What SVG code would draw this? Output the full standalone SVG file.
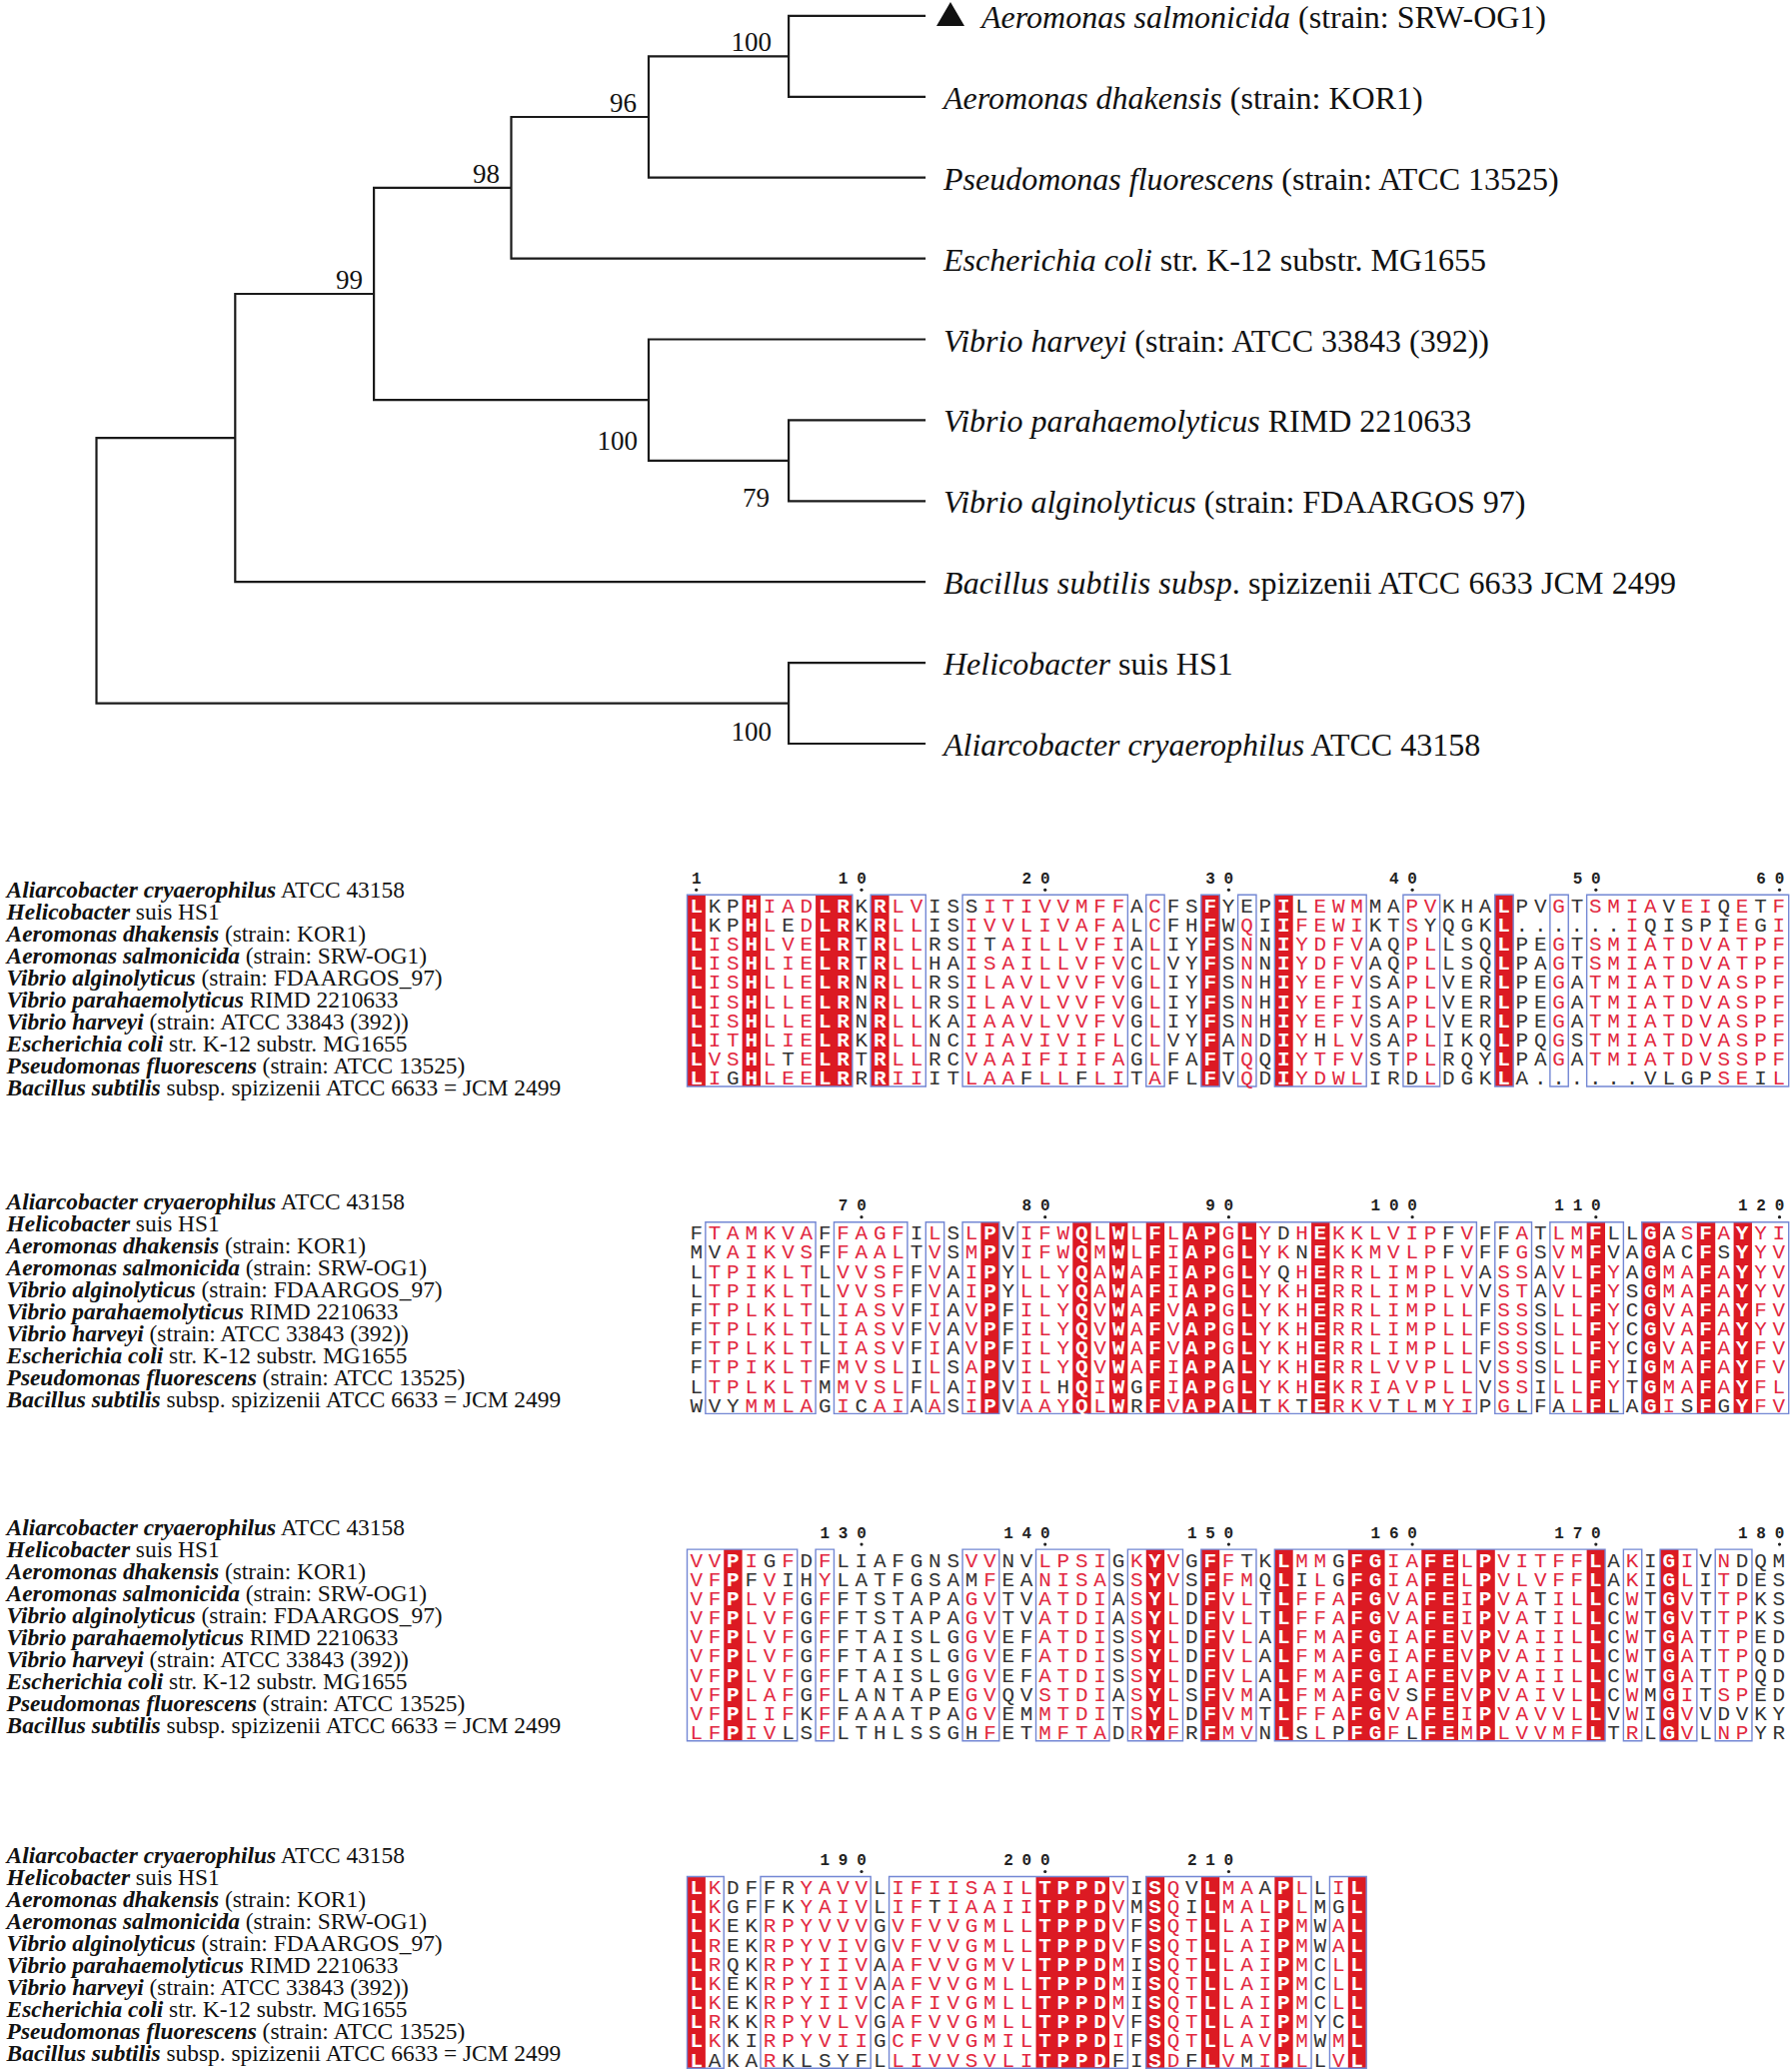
<svg xmlns="http://www.w3.org/2000/svg" width="1791" height="2073" viewBox="0 0 1791 2073">
<style>
.tr{fill:none;stroke:#1a1a1a;stroke-width:2.2;stroke-linecap:square}
.tl{font-family:"Liberation Serif","Times New Roman",serif;font-size:32px;fill:#111}
.bs{font-family:"Liberation Serif","Times New Roman",serif;font-size:27px;fill:#111;text-anchor:end}
.it{font-style:italic}
.al{font-family:"Liberation Serif","Times New Roman",serif;font-size:23.4px;fill:#111}
.bi{font-weight:bold;font-style:italic}
.c{fill:#dc1a23}
.b{fill:none;stroke:#7387d4;stroke-width:1.4;vector-effect:non-scaling-stroke}
.s{font-family:"Liberation Mono","Courier New",monospace;font-size:21px;letter-spacing:5.757px;fill:#333}
.r{fill:#e2283f}
.w{fill:#fff;font-weight:bold}
.n{font-family:"Liberation Mono","Courier New",monospace;font-size:16px;font-weight:bold;text-anchor:middle;fill:#222}
.d{fill:#222}
</style>
<rect x="0" y="0" width="1791" height="2073" fill="#fff"/>

<g id="tree-connectors" class="tr">
<path d="M96.5 438.1V703.55M96.5 438.1H235.3M96.5 703.55H789.1M235.3 294V582.2M235.3 294H374.1M235.3 582.2H925M374.1 187.8V400.2M374.1 187.8H511.5M374.1 400.2H649M511.5 117V258.6M511.5 117H649M511.5 258.6H925M649 56.35V177.7M649 56.35H789.1M649 177.7H925M789.1 15.9V96.8M789.1 15.9H925M789.1 96.8H925M649 339.5V460.85M649 339.5H925M649 460.85H789.1M789.1 420.4V501.3M789.1 420.4H925M789.1 501.3H925M789.1 663.1V744M789.1 663.1H925M789.1 744H925"/>
</g>

<g id="support-values">
<text class="bs" x="772" y="51">100</text>
<text class="bs" x="637" y="112">96</text>
<text class="bs" x="500" y="183">98</text>
<text class="bs" x="363" y="289">99</text>
<text class="bs" x="638" y="450">100</text>
<text class="bs" x="770" y="507">79</text>
<text class="bs" x="772" y="741">100</text>
</g>

<g id="leaf-aeromonas-salmonicida"><polygon points="937,26 965,26 951,2" fill="#111"/><text class="tl" x="982" y="28"><tspan class="it">Aeromonas salmonicida</tspan> (strain: SRW-OG1)</text></g>
<g id="leaf-aeromonas-dhakensis"><text class="tl" x="944" y="108.8"><tspan class="it">Aeromonas dhakensis</tspan> (strain: KOR1)</text></g>
<g id="leaf-pseudomonas"><text class="tl" x="944" y="189.7"><tspan class="it">Pseudomonas fluorescens</tspan> (strain: ATCC 13525)</text></g>
<g id="leaf-ecoli"><text class="tl" x="944" y="270.6"><tspan class="it">Escherichia coli</tspan> str. K-12 substr. MG1655</text></g>
<g id="leaf-vibrio-harveyi"><text class="tl" x="944" y="351.5"><tspan class="it">Vibrio harveyi</tspan> (strain: ATCC 33843 (392))</text></g>
<g id="leaf-vibrio-parahaemolyticus"><text class="tl" x="944" y="432.4"><tspan class="it">Vibrio parahaemolyticus</tspan> RIMD 2210633</text></g>
<g id="leaf-vibrio-alginolyticus"><text class="tl" x="944" y="513.3"><tspan class="it">Vibrio alginolyticus</tspan> (strain: FDAARGOS 97)</text></g>
<g id="leaf-bacillus"><text class="tl" x="944" y="594.2" textLength="733" lengthAdjust="spacing"><tspan class="it">Bacillus subtilis subsp</tspan>. spizizenii ATCC 6633 JCM 2499</text></g>
<g id="leaf-helicobacter"><text class="tl" x="944" y="675.1"><tspan class="it">Helicobacter</tspan> suis HS1</text></g>
<g id="leaf-aliarcobacter"><text class="tl" x="944" y="756"><tspan class="it">Aliarcobacter cryaerophilus</tspan> ATCC 43158</text></g>

<g id="labels-block1" transform="translate(0,898)">
<text class="al" x="6.6" y="0"><tspan class="bi">Aliarcobacter cryaerophilus</tspan> ATCC 43158</text>
<text class="al" x="6.6" y="22"><tspan class="bi">Helicobacter</tspan> suis HS1</text>
<text class="al" x="6.6" y="44"><tspan class="bi">Aeromonas dhakensis</tspan> (strain: KOR1)</text>
<text class="al" x="6.6" y="66"><tspan class="bi">Aeromonas salmonicida</tspan> (strain: SRW-OG1)</text>
<text class="al" x="6.6" y="88"><tspan class="bi">Vibrio alginolyticus</tspan> (strain: FDAARGOS_97)</text>
<text class="al" x="6.6" y="110"><tspan class="bi">Vibrio parahaemolyticus</tspan> RIMD 2210633</text>
<text class="al" x="6.6" y="132"><tspan class="bi">Vibrio harveyi</tspan> (strain: ATCC 33843 (392))</text>
<text class="al" x="6.6" y="154"><tspan class="bi">Escherichia coli</tspan> str. K-12 substr. MG1655</text>
<text class="al" x="6.6" y="176"><tspan class="bi">Pseudomonas fluorescens</tspan> (strain: ATCC 13525)</text>
<text class="al" x="6.6" y="198"><tspan class="bi">Bacillus subtilis</tspan> subsp. spizizenii ATCC 6633 = JCM 2499</text>
</g>
<g id="labels-block2" transform="translate(0,1210)">
<text class="al" x="6.6" y="0"><tspan class="bi">Aliarcobacter cryaerophilus</tspan> ATCC 43158</text>
<text class="al" x="6.6" y="22"><tspan class="bi">Helicobacter</tspan> suis HS1</text>
<text class="al" x="6.6" y="44"><tspan class="bi">Aeromonas dhakensis</tspan> (strain: KOR1)</text>
<text class="al" x="6.6" y="66"><tspan class="bi">Aeromonas salmonicida</tspan> (strain: SRW-OG1)</text>
<text class="al" x="6.6" y="88"><tspan class="bi">Vibrio alginolyticus</tspan> (strain: FDAARGOS_97)</text>
<text class="al" x="6.6" y="110"><tspan class="bi">Vibrio parahaemolyticus</tspan> RIMD 2210633</text>
<text class="al" x="6.6" y="132"><tspan class="bi">Vibrio harveyi</tspan> (strain: ATCC 33843 (392))</text>
<text class="al" x="6.6" y="154"><tspan class="bi">Escherichia coli</tspan> str. K-12 substr. MG1655</text>
<text class="al" x="6.6" y="176"><tspan class="bi">Pseudomonas fluorescens</tspan> (strain: ATCC 13525)</text>
<text class="al" x="6.6" y="198"><tspan class="bi">Bacillus subtilis</tspan> subsp. spizizenii ATCC 6633 = JCM 2499</text>
</g>
<g id="labels-block3" transform="translate(0,1536)">
<text class="al" x="6.6" y="0"><tspan class="bi">Aliarcobacter cryaerophilus</tspan> ATCC 43158</text>
<text class="al" x="6.6" y="22"><tspan class="bi">Helicobacter</tspan> suis HS1</text>
<text class="al" x="6.6" y="44"><tspan class="bi">Aeromonas dhakensis</tspan> (strain: KOR1)</text>
<text class="al" x="6.6" y="66"><tspan class="bi">Aeromonas salmonicida</tspan> (strain: SRW-OG1)</text>
<text class="al" x="6.6" y="88"><tspan class="bi">Vibrio alginolyticus</tspan> (strain: FDAARGOS_97)</text>
<text class="al" x="6.6" y="110"><tspan class="bi">Vibrio parahaemolyticus</tspan> RIMD 2210633</text>
<text class="al" x="6.6" y="132"><tspan class="bi">Vibrio harveyi</tspan> (strain: ATCC 33843 (392))</text>
<text class="al" x="6.6" y="154"><tspan class="bi">Escherichia coli</tspan> str. K-12 substr. MG1655</text>
<text class="al" x="6.6" y="176"><tspan class="bi">Pseudomonas fluorescens</tspan> (strain: ATCC 13525)</text>
<text class="al" x="6.6" y="198"><tspan class="bi">Bacillus subtilis</tspan> subsp. spizizenii ATCC 6633 = JCM 2499</text>
</g>
<g id="labels-block4" transform="translate(0,1864)">
<text class="al" x="6.6" y="0"><tspan class="bi">Aliarcobacter cryaerophilus</tspan> ATCC 43158</text>
<text class="al" x="6.6" y="22"><tspan class="bi">Helicobacter</tspan> suis HS1</text>
<text class="al" x="6.6" y="44"><tspan class="bi">Aeromonas dhakensis</tspan> (strain: KOR1)</text>
<text class="al" x="6.6" y="66"><tspan class="bi">Aeromonas salmonicida</tspan> (strain: SRW-OG1)</text>
<text class="al" x="6.6" y="88"><tspan class="bi">Vibrio alginolyticus</tspan> (strain: FDAARGOS_97)</text>
<text class="al" x="6.6" y="110"><tspan class="bi">Vibrio parahaemolyticus</tspan> RIMD 2210633</text>
<text class="al" x="6.6" y="132"><tspan class="bi">Vibrio harveyi</tspan> (strain: ATCC 33843 (392))</text>
<text class="al" x="6.6" y="154"><tspan class="bi">Escherichia coli</tspan> str. K-12 substr. MG1655</text>
<text class="al" x="6.6" y="176"><tspan class="bi">Pseudomonas fluorescens</tspan> (strain: ATCC 13525)</text>
<text class="al" x="6.6" y="198"><tspan class="bi">Bacillus subtilis</tspan> subsp. spizizenii ATCC 6633 = JCM 2499</text>
</g>

<g id="alignment-block1" transform="translate(687.5,895.3)">
<g transform="scale(18.37,1)">
<rect class="c" x="0" y="0" width="1" height="191.7"/><rect class="c" x="3" y="0" width="1" height="191.7"/><rect class="c" x="7" y="0" width="2" height="191.7"/><rect class="c" x="10" y="0" width="1" height="191.7"/><rect class="c" x="28" y="0" width="1" height="191.7"/><rect class="c" x="32" y="0" width="1" height="191.7"/><rect class="c" x="44" y="0" width="1" height="191.7"/>
<rect class="b" x="0" y="0" width="9" height="191.7"/><rect class="b" x="10" y="0" width="3" height="191.7"/><rect class="b" x="15" y="0" width="9" height="191.7"/><rect class="b" x="25" y="0" width="1" height="191.7"/><rect class="b" x="28" y="0" width="1" height="191.7"/><rect class="b" x="30" y="0" width="1" height="191.7"/><rect class="b" x="32" y="0" width="5" height="191.7"/><rect class="b" x="39" y="0" width="2" height="191.7"/><rect class="b" x="44" y="0" width="1" height="191.7"/><rect class="b" x="47" y="0" width="1" height="191.7"/><rect class="b" x="49" y="0" width="11" height="191.7"/>
</g>
<text class="n" x="9.19 156.15 174.52 339.85 358.22 523.55 541.92 707.25 725.62 890.95 909.32 1074.65 1093.02" y="-11.5">1102030405060</text>
<g class="d"><circle cx="9.19" cy="-5" r="1.6"/><circle cx="174.52" cy="-5" r="1.6"/><circle cx="358.22" cy="-5" r="1.6"/><circle cx="541.92" cy="-5" r="1.6"/><circle cx="725.62" cy="-5" r="1.6"/><circle cx="909.32" cy="-5" r="1.6"/><circle cx="1093.02" cy="-5" r="1.6"/></g>
<text class="s" x="2.88" y="17.5"><tspan class="w">L</tspan>KP<tspan class="w">H</tspan><tspan class="r">IAD</tspan><tspan class="w">LR</tspan>K<tspan class="w">R</tspan><tspan class="r">LV</tspan>ISS<tspan class="r">ITIVVMFF</tspan>A<tspan class="r">C</tspan>FS<tspan class="w">F</tspan>YEP<tspan class="w">I</tspan>L<tspan class="r">EWM</tspan>MA<tspan class="r">PV</tspan>KHA<tspan class="w">L</tspan>PV<tspan class="r">G</tspan>T<tspan class="r">SMIA</tspan>V<tspan class="r">EI</tspan>Q<tspan class="r">E</tspan>T<tspan class="r">F</tspan></text>
<text class="s" x="2.88" y="36.67"><tspan class="w">L</tspan>KP<tspan class="w">H</tspan><tspan class="r">L</tspan>E<tspan class="r">D</tspan><tspan class="w">LR</tspan>K<tspan class="w">R</tspan><tspan class="r">LL</tspan>IS<tspan class="r">IVVLIVAFA</tspan>L<tspan class="r">C</tspan>FH<tspan class="w">F</tspan>W<tspan class="r">Q</tspan>I<tspan class="w">I</tspan><tspan class="r">FEWI</tspan>KT<tspan class="r">S</tspan>YQGK<tspan class="w">L</tspan>......<tspan class="r">I</tspan>QISPI<tspan class="r">E</tspan>G<tspan class="r">I</tspan></text>
<text class="s" x="2.88" y="55.84"><tspan class="w">L</tspan><tspan class="r">IS</tspan><tspan class="w">H</tspan><tspan class="r">LVE</tspan><tspan class="w">LR</tspan>T<tspan class="w">R</tspan><tspan class="r">LL</tspan>RS<tspan class="r">I</tspan>T<tspan class="r">AILLVFI</tspan>A<tspan class="r">L</tspan>IY<tspan class="w">F</tspan>S<tspan class="r">N</tspan>N<tspan class="w">I</tspan><tspan class="r">YDFV</tspan>AQ<tspan class="r">PL</tspan>LSQ<tspan class="w">L</tspan>PE<tspan class="r">G</tspan>T<tspan class="r">SMIATDVATPF</tspan></text>
<text class="s" x="2.88" y="75.01"><tspan class="w">L</tspan><tspan class="r">IS</tspan><tspan class="w">H</tspan><tspan class="r">LIE</tspan><tspan class="w">LR</tspan>T<tspan class="w">R</tspan><tspan class="r">LL</tspan>HA<tspan class="r">ISAILLVFV</tspan>C<tspan class="r">L</tspan>VY<tspan class="w">F</tspan>S<tspan class="r">N</tspan>N<tspan class="w">I</tspan><tspan class="r">YDFV</tspan>AQ<tspan class="r">PL</tspan>LSQ<tspan class="w">L</tspan>PA<tspan class="r">G</tspan>T<tspan class="r">SMIATDVATPF</tspan></text>
<text class="s" x="2.88" y="94.18"><tspan class="w">L</tspan><tspan class="r">IS</tspan><tspan class="w">H</tspan><tspan class="r">LLE</tspan><tspan class="w">LR</tspan>N<tspan class="w">R</tspan><tspan class="r">LL</tspan>RS<tspan class="r">ILAVLVVFV</tspan>G<tspan class="r">L</tspan>IY<tspan class="w">F</tspan>S<tspan class="r">N</tspan>H<tspan class="w">I</tspan><tspan class="r">YEFV</tspan>SA<tspan class="r">PL</tspan>VER<tspan class="w">L</tspan>PE<tspan class="r">G</tspan>A<tspan class="r">TMIATDVASPF</tspan></text>
<text class="s" x="2.88" y="113.35"><tspan class="w">L</tspan><tspan class="r">IS</tspan><tspan class="w">H</tspan><tspan class="r">LLE</tspan><tspan class="w">LR</tspan>N<tspan class="w">R</tspan><tspan class="r">LL</tspan>RS<tspan class="r">ILAVLVVFV</tspan>G<tspan class="r">L</tspan>IY<tspan class="w">F</tspan>S<tspan class="r">N</tspan>H<tspan class="w">I</tspan><tspan class="r">YEFI</tspan>SA<tspan class="r">PL</tspan>VER<tspan class="w">L</tspan>PE<tspan class="r">G</tspan>A<tspan class="r">TMIATDVASPF</tspan></text>
<text class="s" x="2.88" y="132.52"><tspan class="w">L</tspan><tspan class="r">IS</tspan><tspan class="w">H</tspan><tspan class="r">LLE</tspan><tspan class="w">LR</tspan>N<tspan class="w">R</tspan><tspan class="r">LL</tspan>KA<tspan class="r">IAAVLVVFV</tspan>G<tspan class="r">L</tspan>IY<tspan class="w">F</tspan>S<tspan class="r">N</tspan>H<tspan class="w">I</tspan><tspan class="r">YEFV</tspan>SA<tspan class="r">PL</tspan>VER<tspan class="w">L</tspan>PE<tspan class="r">G</tspan>A<tspan class="r">TMIATDVASPF</tspan></text>
<text class="s" x="2.88" y="151.69"><tspan class="w">L</tspan><tspan class="r">IT</tspan><tspan class="w">H</tspan><tspan class="r">LIE</tspan><tspan class="w">LR</tspan>K<tspan class="w">R</tspan><tspan class="r">LL</tspan>NC<tspan class="r">IIAVIVIFL</tspan>C<tspan class="r">L</tspan>VY<tspan class="w">F</tspan>A<tspan class="r">N</tspan>D<tspan class="w">I</tspan><tspan class="r">Y</tspan>H<tspan class="r">LV</tspan>SA<tspan class="r">PL</tspan>IKQ<tspan class="w">L</tspan>PQ<tspan class="r">G</tspan>S<tspan class="r">TMIATDVASPF</tspan></text>
<text class="s" x="2.88" y="170.86"><tspan class="w">L</tspan><tspan class="r">VS</tspan><tspan class="w">H</tspan><tspan class="r">L</tspan>T<tspan class="r">E</tspan><tspan class="w">LR</tspan>T<tspan class="w">R</tspan><tspan class="r">LL</tspan>RC<tspan class="r">VAAIFIIFA</tspan>G<tspan class="r">L</tspan>FA<tspan class="w">F</tspan>T<tspan class="r">Q</tspan>Q<tspan class="w">I</tspan><tspan class="r">YTFV</tspan>ST<tspan class="r">PL</tspan>RQY<tspan class="w">L</tspan>PA<tspan class="r">G</tspan>A<tspan class="r">TMIATDVSSPF</tspan></text>
<text class="s" x="2.88" y="190.03"><tspan class="w">L</tspan><tspan class="r">I</tspan>G<tspan class="w">H</tspan><tspan class="r">LEE</tspan><tspan class="w">LR</tspan>R<tspan class="w">R</tspan><tspan class="r">II</tspan>IT<tspan class="r">LAA</tspan>F<tspan class="r">LL</tspan>F<tspan class="r">LI</tspan>T<tspan class="r">A</tspan>FL<tspan class="w">F</tspan>V<tspan class="r">Q</tspan>D<tspan class="w">I</tspan><tspan class="r">YDWL</tspan>IRD<tspan class="r">L</tspan>DGK<tspan class="w">L</tspan>A......VLGP<tspan class="r">SE</tspan>I<tspan class="r">L</tspan></text>
</g>

<g id="alignment-block2" transform="translate(687.5,1222.7)">
<g transform="scale(18.37,1)">
<rect class="c" x="16" y="0" width="1" height="191.7"/><rect class="c" x="21" y="0" width="1" height="191.7"/><rect class="c" x="23" y="0" width="1" height="191.7"/><rect class="c" x="25" y="0" width="1" height="191.7"/><rect class="c" x="27" y="0" width="2" height="191.7"/><rect class="c" x="30" y="0" width="1" height="191.7"/><rect class="c" x="34" y="0" width="1" height="191.7"/><rect class="c" x="49" y="0" width="1" height="191.7"/><rect class="c" x="52" y="0" width="1" height="191.7"/><rect class="c" x="55" y="0" width="1" height="191.7"/><rect class="c" x="57" y="0" width="1" height="191.7"/>
<rect class="b" x="1" y="0" width="6" height="191.7"/><rect class="b" x="8" y="0" width="4" height="191.7"/><rect class="b" x="13" y="0" width="1" height="191.7"/><rect class="b" x="15" y="0" width="2" height="191.7"/><rect class="b" x="18" y="0" width="25" height="191.7"/><rect class="b" x="44" y="0" width="2" height="191.7"/><rect class="b" x="47" y="0" width="4" height="191.7"/><rect class="b" x="52" y="0" width="8" height="191.7"/>
</g>
<text class="n" x="156.15 174.52 339.85 358.22 523.55 541.92 688.88 707.25 725.62 872.58 890.95 909.32 1056.28 1074.65 1093.02" y="-11.5">708090100110120</text>
<g class="d"><circle cx="174.52" cy="-5" r="1.6"/><circle cx="358.22" cy="-5" r="1.6"/><circle cx="541.92" cy="-5" r="1.6"/><circle cx="725.62" cy="-5" r="1.6"/><circle cx="909.32" cy="-5" r="1.6"/><circle cx="1093.02" cy="-5" r="1.6"/></g>
<text class="s" x="2.88" y="17.5">F<tspan class="r">TAMKVA</tspan>F<tspan class="r">FAGF</tspan>I<tspan class="r">L</tspan>S<tspan class="r">L</tspan><tspan class="w">P</tspan>V<tspan class="r">IFW</tspan><tspan class="w">Q</tspan><tspan class="r">L</tspan><tspan class="w">W</tspan><tspan class="r">L</tspan><tspan class="w">F</tspan><tspan class="r">L</tspan><tspan class="w">AP</tspan><tspan class="r">G</tspan><tspan class="w">L</tspan><tspan class="r">Y</tspan>D<tspan class="r">H</tspan><tspan class="w">E</tspan><tspan class="r">KKLVIP</tspan>F<tspan class="r">V</tspan>FF<tspan class="r">A</tspan>T<tspan class="r">LM</tspan><tspan class="w">F</tspan>LL<tspan class="w">G</tspan>A<tspan class="r">S</tspan><tspan class="w">F</tspan><tspan class="r">A</tspan><tspan class="w">Y</tspan><tspan class="r">YI</tspan></text>
<text class="s" x="2.88" y="36.67">MV<tspan class="r">AIKVS</tspan>F<tspan class="r">FAAL</tspan>T<tspan class="r">V</tspan>S<tspan class="r">M</tspan><tspan class="w">P</tspan>V<tspan class="r">IFW</tspan><tspan class="w">Q</tspan><tspan class="r">M</tspan><tspan class="w">W</tspan><tspan class="r">L</tspan><tspan class="w">F</tspan><tspan class="r">I</tspan><tspan class="w">AP</tspan><tspan class="r">G</tspan><tspan class="w">L</tspan><tspan class="r">YK</tspan>N<tspan class="w">E</tspan><tspan class="r">KKMVLP</tspan>F<tspan class="r">V</tspan>FF<tspan class="r">G</tspan>S<tspan class="r">VM</tspan><tspan class="w">F</tspan>VA<tspan class="w">G</tspan>AC<tspan class="w">F</tspan>S<tspan class="w">Y</tspan><tspan class="r">YV</tspan></text>
<text class="s" x="2.88" y="55.84">L<tspan class="r">TPIKLT</tspan>L<tspan class="r">VVSF</tspan>F<tspan class="r">V</tspan>A<tspan class="r">I</tspan><tspan class="w">P</tspan>Y<tspan class="r">LLY</tspan><tspan class="w">Q</tspan><tspan class="r">A</tspan><tspan class="w">W</tspan><tspan class="r">A</tspan><tspan class="w">F</tspan><tspan class="r">I</tspan><tspan class="w">AP</tspan><tspan class="r">G</tspan><tspan class="w">L</tspan><tspan class="r">Y</tspan>Q<tspan class="r">H</tspan><tspan class="w">E</tspan><tspan class="r">RRLIMPLV</tspan>A<tspan class="r">SS</tspan>A<tspan class="r">VL</tspan><tspan class="w">F</tspan><tspan class="r">Y</tspan>A<tspan class="w">G</tspan><tspan class="r">MA</tspan><tspan class="w">F</tspan><tspan class="r">A</tspan><tspan class="w">Y</tspan><tspan class="r">YV</tspan></text>
<text class="s" x="2.88" y="75.01">L<tspan class="r">TPIKLT</tspan>L<tspan class="r">VVSF</tspan>F<tspan class="r">V</tspan>A<tspan class="r">I</tspan><tspan class="w">P</tspan>Y<tspan class="r">LLY</tspan><tspan class="w">Q</tspan><tspan class="r">A</tspan><tspan class="w">W</tspan><tspan class="r">A</tspan><tspan class="w">F</tspan><tspan class="r">I</tspan><tspan class="w">AP</tspan><tspan class="r">G</tspan><tspan class="w">L</tspan><tspan class="r">YKH</tspan><tspan class="w">E</tspan><tspan class="r">RRLIMPLV</tspan>V<tspan class="r">ST</tspan>A<tspan class="r">VL</tspan><tspan class="w">F</tspan><tspan class="r">Y</tspan>S<tspan class="w">G</tspan><tspan class="r">MA</tspan><tspan class="w">F</tspan><tspan class="r">A</tspan><tspan class="w">Y</tspan><tspan class="r">YV</tspan></text>
<text class="s" x="2.88" y="94.18">F<tspan class="r">TPLKLT</tspan>L<tspan class="r">IASV</tspan>F<tspan class="r">I</tspan>A<tspan class="r">V</tspan><tspan class="w">P</tspan>F<tspan class="r">ILY</tspan><tspan class="w">Q</tspan><tspan class="r">V</tspan><tspan class="w">W</tspan><tspan class="r">A</tspan><tspan class="w">F</tspan><tspan class="r">V</tspan><tspan class="w">AP</tspan><tspan class="r">G</tspan><tspan class="w">L</tspan><tspan class="r">YKH</tspan><tspan class="w">E</tspan><tspan class="r">RRLIMPLL</tspan>F<tspan class="r">SS</tspan>S<tspan class="r">LL</tspan><tspan class="w">F</tspan><tspan class="r">Y</tspan>C<tspan class="w">G</tspan><tspan class="r">VA</tspan><tspan class="w">F</tspan><tspan class="r">A</tspan><tspan class="w">Y</tspan><tspan class="r">FV</tspan></text>
<text class="s" x="2.88" y="113.35">F<tspan class="r">TPLKLT</tspan>L<tspan class="r">IASV</tspan>F<tspan class="r">V</tspan>A<tspan class="r">V</tspan><tspan class="w">P</tspan>F<tspan class="r">ILY</tspan><tspan class="w">Q</tspan><tspan class="r">V</tspan><tspan class="w">W</tspan><tspan class="r">A</tspan><tspan class="w">F</tspan><tspan class="r">V</tspan><tspan class="w">AP</tspan><tspan class="r">G</tspan><tspan class="w">L</tspan><tspan class="r">YKH</tspan><tspan class="w">E</tspan><tspan class="r">RRLIMPLL</tspan>F<tspan class="r">SS</tspan>S<tspan class="r">LL</tspan><tspan class="w">F</tspan><tspan class="r">Y</tspan>C<tspan class="w">G</tspan><tspan class="r">VA</tspan><tspan class="w">F</tspan><tspan class="r">A</tspan><tspan class="w">Y</tspan><tspan class="r">YV</tspan></text>
<text class="s" x="2.88" y="132.52">F<tspan class="r">TPLKLT</tspan>L<tspan class="r">IASV</tspan>F<tspan class="r">I</tspan>A<tspan class="r">V</tspan><tspan class="w">P</tspan>F<tspan class="r">ILY</tspan><tspan class="w">Q</tspan><tspan class="r">V</tspan><tspan class="w">W</tspan><tspan class="r">A</tspan><tspan class="w">F</tspan><tspan class="r">V</tspan><tspan class="w">AP</tspan><tspan class="r">G</tspan><tspan class="w">L</tspan><tspan class="r">YKH</tspan><tspan class="w">E</tspan><tspan class="r">RRLIMPLL</tspan>F<tspan class="r">SS</tspan>S<tspan class="r">LL</tspan><tspan class="w">F</tspan><tspan class="r">Y</tspan>C<tspan class="w">G</tspan><tspan class="r">VA</tspan><tspan class="w">F</tspan><tspan class="r">A</tspan><tspan class="w">Y</tspan><tspan class="r">FV</tspan></text>
<text class="s" x="2.88" y="151.69">F<tspan class="r">TPIKLT</tspan>F<tspan class="r">MVSL</tspan>I<tspan class="r">L</tspan>S<tspan class="r">A</tspan><tspan class="w">P</tspan>V<tspan class="r">ILY</tspan><tspan class="w">Q</tspan><tspan class="r">V</tspan><tspan class="w">W</tspan><tspan class="r">A</tspan><tspan class="w">F</tspan><tspan class="r">I</tspan><tspan class="w">AP</tspan>A<tspan class="w">L</tspan><tspan class="r">YKH</tspan><tspan class="w">E</tspan><tspan class="r">RRLVVPLL</tspan>V<tspan class="r">SS</tspan>S<tspan class="r">LL</tspan><tspan class="w">F</tspan><tspan class="r">Y</tspan>I<tspan class="w">G</tspan><tspan class="r">MA</tspan><tspan class="w">F</tspan><tspan class="r">A</tspan><tspan class="w">Y</tspan><tspan class="r">FV</tspan></text>
<text class="s" x="2.88" y="170.86">L<tspan class="r">TPLKLT</tspan>M<tspan class="r">MVSL</tspan>F<tspan class="r">L</tspan>A<tspan class="r">I</tspan><tspan class="w">P</tspan>V<tspan class="r">IL</tspan>H<tspan class="w">Q</tspan><tspan class="r">I</tspan><tspan class="w">W</tspan>G<tspan class="w">F</tspan><tspan class="r">I</tspan><tspan class="w">AP</tspan><tspan class="r">G</tspan><tspan class="w">L</tspan><tspan class="r">YKH</tspan><tspan class="w">E</tspan><tspan class="r">KRIAVPLL</tspan>V<tspan class="r">SS</tspan>I<tspan class="r">LL</tspan><tspan class="w">F</tspan><tspan class="r">Y</tspan>T<tspan class="w">G</tspan><tspan class="r">MA</tspan><tspan class="w">F</tspan><tspan class="r">A</tspan><tspan class="w">Y</tspan><tspan class="r">FL</tspan></text>
<text class="s" x="2.88" y="190.03">WVY<tspan class="r">MMLA</tspan>G<tspan class="r">I</tspan>C<tspan class="r">AI</tspan>A<tspan class="r">A</tspan>S<tspan class="r">I</tspan><tspan class="w">P</tspan>V<tspan class="r">AAY</tspan><tspan class="w">Q</tspan><tspan class="r">L</tspan><tspan class="w">W</tspan>R<tspan class="w">F</tspan><tspan class="r">V</tspan><tspan class="w">AP</tspan>A<tspan class="w">L</tspan>T<tspan class="r">K</tspan>T<tspan class="w">E</tspan><tspan class="r">RKV</tspan>T<tspan class="r">L</tspan>M<tspan class="r">YI</tspan>P<tspan class="r">G</tspan>LFA<tspan class="r">L</tspan><tspan class="w">F</tspan>LA<tspan class="w">G</tspan><tspan class="r">I</tspan>S<tspan class="w">F</tspan>G<tspan class="w">Y</tspan><tspan class="r">FV</tspan></text>
</g>

<g id="alignment-block3" transform="translate(687.5,1550.1)">
<g transform="scale(18.37,1)">
<rect class="c" x="2" y="0" width="1" height="191.7"/><rect class="c" x="25" y="0" width="1" height="191.7"/><rect class="c" x="28" y="0" width="1" height="191.7"/><rect class="c" x="32" y="0" width="1" height="191.7"/><rect class="c" x="36" y="0" width="2" height="191.7"/><rect class="c" x="40" y="0" width="2" height="191.7"/><rect class="c" x="43" y="0" width="1" height="191.7"/><rect class="c" x="49" y="0" width="1" height="191.7"/><rect class="c" x="53" y="0" width="1" height="191.7"/>
<rect class="b" x="0" y="0" width="6" height="191.7"/><rect class="b" x="7" y="0" width="1" height="191.7"/><rect class="b" x="15" y="0" width="2" height="191.7"/><rect class="b" x="19" y="0" width="4" height="191.7"/><rect class="b" x="24" y="0" width="3" height="191.7"/><rect class="b" x="28" y="0" width="3" height="191.7"/><rect class="b" x="32" y="0" width="18" height="191.7"/><rect class="b" x="51" y="0" width="1" height="191.7"/><rect class="b" x="53" y="0" width="2" height="191.7"/><rect class="b" x="56" y="0" width="2" height="191.7"/>
</g>
<text class="n" x="137.78 156.15 174.52 321.48 339.85 358.22 505.18 523.55 541.92 688.88 707.25 725.62 872.58 890.95 909.32 1056.28 1074.65 1093.02" y="-11.5">130140150160170180</text>
<g class="d"><circle cx="174.52" cy="-5" r="1.6"/><circle cx="358.22" cy="-5" r="1.6"/><circle cx="541.92" cy="-5" r="1.6"/><circle cx="725.62" cy="-5" r="1.6"/><circle cx="909.32" cy="-5" r="1.6"/><circle cx="1093.02" cy="-5" r="1.6"/></g>
<text class="s" x="2.88" y="17.5"><tspan class="r">VV</tspan><tspan class="w">P</tspan><tspan class="r">I</tspan>G<tspan class="r">F</tspan>D<tspan class="r">F</tspan>LIAFGNS<tspan class="r">VV</tspan>NV<tspan class="r">LPSI</tspan>G<tspan class="r">K</tspan><tspan class="w">Y</tspan><tspan class="r">V</tspan>G<tspan class="w">F</tspan><tspan class="r">F</tspan>TK<tspan class="w">L</tspan><tspan class="r">MM</tspan>G<tspan class="w">FG</tspan><tspan class="r">IA</tspan><tspan class="w">FE</tspan><tspan class="r">L</tspan><tspan class="w">P</tspan><tspan class="r">VITFF</tspan><tspan class="w">L</tspan>A<tspan class="r">K</tspan>I<tspan class="w">G</tspan><tspan class="r">I</tspan>V<tspan class="r">N</tspan>DQM</text>
<text class="s" x="2.88" y="36.67"><tspan class="r">VF</tspan><tspan class="w">P</tspan>F<tspan class="r">V</tspan>IH<tspan class="r">Y</tspan>LATFGSAM<tspan class="r">F</tspan>EA<tspan class="r">NISA</tspan>S<tspan class="r">S</tspan><tspan class="w">Y</tspan><tspan class="r">V</tspan>S<tspan class="w">F</tspan><tspan class="r">FM</tspan>Q<tspan class="w">L</tspan>I<tspan class="r">L</tspan>G<tspan class="w">FG</tspan><tspan class="r">IA</tspan><tspan class="w">FE</tspan><tspan class="r">L</tspan><tspan class="w">P</tspan><tspan class="r">VLVFF</tspan><tspan class="w">L</tspan>A<tspan class="r">K</tspan>I<tspan class="w">G</tspan><tspan class="r">L</tspan>I<tspan class="r">T</tspan>DES</text>
<text class="s" x="2.88" y="55.84"><tspan class="r">VF</tspan><tspan class="w">P</tspan><tspan class="r">LVF</tspan>G<tspan class="r">F</tspan>FTSTAPA<tspan class="r">GV</tspan>TV<tspan class="r">ATDI</tspan>A<tspan class="r">S</tspan><tspan class="w">Y</tspan><tspan class="r">L</tspan>D<tspan class="w">F</tspan><tspan class="r">VL</tspan>T<tspan class="w">L</tspan><tspan class="r">FFA</tspan><tspan class="w">FG</tspan><tspan class="r">VA</tspan><tspan class="w">FE</tspan><tspan class="r">I</tspan><tspan class="w">P</tspan><tspan class="r">VA</tspan>T<tspan class="r">IL</tspan><tspan class="w">L</tspan>C<tspan class="r">W</tspan>T<tspan class="w">G</tspan><tspan class="r">V</tspan>T<tspan class="r">TP</tspan>KS</text>
<text class="s" x="2.88" y="75.01"><tspan class="r">VF</tspan><tspan class="w">P</tspan><tspan class="r">LVF</tspan>G<tspan class="r">F</tspan>FTSTAPA<tspan class="r">GV</tspan>TV<tspan class="r">ATDI</tspan>A<tspan class="r">S</tspan><tspan class="w">Y</tspan><tspan class="r">L</tspan>D<tspan class="w">F</tspan><tspan class="r">VL</tspan>T<tspan class="w">L</tspan><tspan class="r">FFA</tspan><tspan class="w">FG</tspan><tspan class="r">VA</tspan><tspan class="w">FE</tspan><tspan class="r">I</tspan><tspan class="w">P</tspan><tspan class="r">VA</tspan>T<tspan class="r">IL</tspan><tspan class="w">L</tspan>C<tspan class="r">W</tspan>T<tspan class="w">G</tspan><tspan class="r">V</tspan>T<tspan class="r">TP</tspan>KS</text>
<text class="s" x="2.88" y="94.18"><tspan class="r">VF</tspan><tspan class="w">P</tspan><tspan class="r">LVF</tspan>G<tspan class="r">F</tspan>FTAISLG<tspan class="r">GV</tspan>EF<tspan class="r">ATDI</tspan>S<tspan class="r">S</tspan><tspan class="w">Y</tspan><tspan class="r">L</tspan>D<tspan class="w">F</tspan><tspan class="r">VL</tspan>A<tspan class="w">L</tspan><tspan class="r">FMA</tspan><tspan class="w">FG</tspan><tspan class="r">IA</tspan><tspan class="w">FE</tspan><tspan class="r">V</tspan><tspan class="w">P</tspan><tspan class="r">VAIIL</tspan><tspan class="w">L</tspan>C<tspan class="r">W</tspan>T<tspan class="w">G</tspan><tspan class="r">A</tspan>T<tspan class="r">TP</tspan>ED</text>
<text class="s" x="2.88" y="113.35"><tspan class="r">VF</tspan><tspan class="w">P</tspan><tspan class="r">LVF</tspan>G<tspan class="r">F</tspan>FTAISLG<tspan class="r">GV</tspan>EF<tspan class="r">ATDI</tspan>S<tspan class="r">S</tspan><tspan class="w">Y</tspan><tspan class="r">L</tspan>D<tspan class="w">F</tspan><tspan class="r">VL</tspan>A<tspan class="w">L</tspan><tspan class="r">FMA</tspan><tspan class="w">FG</tspan><tspan class="r">IA</tspan><tspan class="w">FE</tspan><tspan class="r">V</tspan><tspan class="w">P</tspan><tspan class="r">VAIIL</tspan><tspan class="w">L</tspan>C<tspan class="r">W</tspan>T<tspan class="w">G</tspan><tspan class="r">A</tspan>T<tspan class="r">TP</tspan>QD</text>
<text class="s" x="2.88" y="132.52"><tspan class="r">VF</tspan><tspan class="w">P</tspan><tspan class="r">LVF</tspan>G<tspan class="r">F</tspan>FTAISLG<tspan class="r">GV</tspan>EF<tspan class="r">ATDI</tspan>S<tspan class="r">S</tspan><tspan class="w">Y</tspan><tspan class="r">L</tspan>D<tspan class="w">F</tspan><tspan class="r">VL</tspan>A<tspan class="w">L</tspan><tspan class="r">FMA</tspan><tspan class="w">FG</tspan><tspan class="r">IA</tspan><tspan class="w">FE</tspan><tspan class="r">V</tspan><tspan class="w">P</tspan><tspan class="r">VAIIL</tspan><tspan class="w">L</tspan>C<tspan class="r">W</tspan>T<tspan class="w">G</tspan><tspan class="r">A</tspan>T<tspan class="r">TP</tspan>QD</text>
<text class="s" x="2.88" y="151.69"><tspan class="r">VF</tspan><tspan class="w">P</tspan><tspan class="r">LAF</tspan>G<tspan class="r">F</tspan>LANTAPE<tspan class="r">GV</tspan>QV<tspan class="r">STDI</tspan>A<tspan class="r">S</tspan><tspan class="w">Y</tspan><tspan class="r">L</tspan>S<tspan class="w">F</tspan><tspan class="r">VM</tspan>A<tspan class="w">L</tspan><tspan class="r">FMA</tspan><tspan class="w">FG</tspan><tspan class="r">V</tspan>S<tspan class="w">FE</tspan><tspan class="r">V</tspan><tspan class="w">P</tspan><tspan class="r">VAIVL</tspan><tspan class="w">L</tspan>C<tspan class="r">W</tspan>M<tspan class="w">G</tspan><tspan class="r">I</tspan>T<tspan class="r">SP</tspan>ED</text>
<text class="s" x="2.88" y="170.86"><tspan class="r">VF</tspan><tspan class="w">P</tspan><tspan class="r">LIF</tspan>K<tspan class="r">F</tspan>FAAATPA<tspan class="r">GV</tspan>EM<tspan class="r">MTDI</tspan>T<tspan class="r">S</tspan><tspan class="w">Y</tspan><tspan class="r">L</tspan>D<tspan class="w">F</tspan><tspan class="r">VM</tspan>T<tspan class="w">L</tspan><tspan class="r">FFA</tspan><tspan class="w">FG</tspan><tspan class="r">VA</tspan><tspan class="w">FE</tspan><tspan class="r">I</tspan><tspan class="w">P</tspan><tspan class="r">VAVVL</tspan><tspan class="w">L</tspan>V<tspan class="r">W</tspan>I<tspan class="w">G</tspan><tspan class="r">V</tspan>VDVKY</text>
<text class="s" x="2.88" y="190.03"><tspan class="r">LF</tspan><tspan class="w">P</tspan><tspan class="r">IV</tspan>LS<tspan class="r">F</tspan>LTHLSSGH<tspan class="r">F</tspan>ET<tspan class="r">MFTA</tspan>D<tspan class="r">R</tspan><tspan class="w">Y</tspan><tspan class="r">F</tspan>R<tspan class="w">F</tspan><tspan class="r">MV</tspan>N<tspan class="w">L</tspan>S<tspan class="r">L</tspan>P<tspan class="w">FG</tspan><tspan class="r">F</tspan>L<tspan class="w">FE</tspan><tspan class="r">M</tspan><tspan class="w">P</tspan><tspan class="r">LVVMF</tspan><tspan class="w">L</tspan>T<tspan class="r">R</tspan>L<tspan class="w">G</tspan><tspan class="r">V</tspan>L<tspan class="r">NP</tspan>YR</text>
</g>

<g id="alignment-block4" transform="translate(687.5,1877.5)">
<g transform="scale(18.37,1)">
<rect class="c" x="0" y="0" width="1" height="191.7"/><rect class="c" x="19" y="0" width="4" height="191.7"/><rect class="c" x="25" y="0" width="1" height="191.7"/><rect class="c" x="28" y="0" width="1" height="191.7"/><rect class="c" x="32" y="0" width="1" height="191.7"/><rect class="c" x="36" y="0" width="1" height="191.7"/>
<rect class="b" x="0" y="0" width="2" height="191.7"/><rect class="b" x="4" y="0" width="6" height="191.7"/><rect class="b" x="11" y="0" width="13" height="191.7"/><rect class="b" x="25" y="0" width="9" height="191.7"/><rect class="b" x="35" y="0" width="2" height="191.7"/>
</g>
<text class="n" x="137.78 156.15 174.52 321.48 339.85 358.22 505.18 523.55 541.92" y="-11.5">190200210</text>
<g class="d"><circle cx="174.52" cy="-5" r="1.6"/><circle cx="358.22" cy="-5" r="1.6"/><circle cx="541.92" cy="-5" r="1.6"/></g>
<text class="s" x="2.88" y="17.5"><tspan class="w">L</tspan><tspan class="r">K</tspan>DFFR<tspan class="r">YAVV</tspan>L<tspan class="r">IFIISAIL</tspan><tspan class="w">TPPD</tspan><tspan class="r">V</tspan>I<tspan class="w">S</tspan><tspan class="r">Q</tspan>V<tspan class="w">L</tspan><tspan class="r">MA</tspan>A<tspan class="w">P</tspan><tspan class="r">L</tspan>L<tspan class="r">I</tspan><tspan class="w">L</tspan></text>
<text class="s" x="2.88" y="36.67"><tspan class="w">L</tspan><tspan class="r">K</tspan>GFFK<tspan class="r">YAIV</tspan>L<tspan class="r">IF</tspan>T<tspan class="r">IAAII</tspan><tspan class="w">TPPD</tspan><tspan class="r">V</tspan>M<tspan class="w">S</tspan><tspan class="r">Q</tspan>I<tspan class="w">L</tspan><tspan class="r">MAL</tspan><tspan class="w">P</tspan><tspan class="r">L</tspan>MG<tspan class="w">L</tspan></text>
<text class="s" x="2.88" y="55.84"><tspan class="w">L</tspan><tspan class="r">K</tspan>EK<tspan class="r">RPYVVV</tspan>G<tspan class="r">VFVVGMLL</tspan><tspan class="w">TPPD</tspan><tspan class="r">V</tspan>F<tspan class="w">S</tspan><tspan class="r">QT</tspan><tspan class="w">L</tspan><tspan class="r">LAI</tspan><tspan class="w">P</tspan><tspan class="r">M</tspan>W<tspan class="r">A</tspan><tspan class="w">L</tspan></text>
<text class="s" x="2.88" y="75.01"><tspan class="w">L</tspan><tspan class="r">R</tspan>EK<tspan class="r">RPYVIV</tspan>G<tspan class="r">VFVVGMLL</tspan><tspan class="w">TPPD</tspan><tspan class="r">V</tspan>F<tspan class="w">S</tspan><tspan class="r">QT</tspan><tspan class="w">L</tspan><tspan class="r">LAI</tspan><tspan class="w">P</tspan><tspan class="r">M</tspan>W<tspan class="r">A</tspan><tspan class="w">L</tspan></text>
<text class="s" x="2.88" y="94.18"><tspan class="w">L</tspan><tspan class="r">R</tspan>QK<tspan class="r">RPYIIV</tspan>A<tspan class="r">AFVVGMVL</tspan><tspan class="w">TPPD</tspan><tspan class="r">M</tspan>I<tspan class="w">S</tspan><tspan class="r">QT</tspan><tspan class="w">L</tspan><tspan class="r">LAI</tspan><tspan class="w">P</tspan><tspan class="r">M</tspan>C<tspan class="r">L</tspan><tspan class="w">L</tspan></text>
<text class="s" x="2.88" y="113.35"><tspan class="w">L</tspan><tspan class="r">K</tspan>EK<tspan class="r">RPYIIV</tspan>A<tspan class="r">AFVVGMLL</tspan><tspan class="w">TPPD</tspan><tspan class="r">M</tspan>I<tspan class="w">S</tspan><tspan class="r">QT</tspan><tspan class="w">L</tspan><tspan class="r">LAI</tspan><tspan class="w">P</tspan><tspan class="r">M</tspan>C<tspan class="r">L</tspan><tspan class="w">L</tspan></text>
<text class="s" x="2.88" y="132.52"><tspan class="w">L</tspan><tspan class="r">K</tspan>EK<tspan class="r">RPYIIV</tspan>C<tspan class="r">AFIVGMLL</tspan><tspan class="w">TPPD</tspan><tspan class="r">M</tspan>I<tspan class="w">S</tspan><tspan class="r">QT</tspan><tspan class="w">L</tspan><tspan class="r">LAI</tspan><tspan class="w">P</tspan><tspan class="r">M</tspan>C<tspan class="r">L</tspan><tspan class="w">L</tspan></text>
<text class="s" x="2.88" y="151.69"><tspan class="w">L</tspan><tspan class="r">R</tspan>KK<tspan class="r">RPYVLV</tspan>G<tspan class="r">AFVVGMLL</tspan><tspan class="w">TPPD</tspan><tspan class="r">V</tspan>F<tspan class="w">S</tspan><tspan class="r">QT</tspan><tspan class="w">L</tspan><tspan class="r">LAI</tspan><tspan class="w">P</tspan><tspan class="r">M</tspan>YC<tspan class="w">L</tspan></text>
<text class="s" x="2.88" y="170.86"><tspan class="w">L</tspan><tspan class="r">K</tspan>KI<tspan class="r">RPYVII</tspan>G<tspan class="r">CFVVGMIL</tspan><tspan class="w">TPPD</tspan><tspan class="r">I</tspan>F<tspan class="w">S</tspan><tspan class="r">QT</tspan><tspan class="w">L</tspan><tspan class="r">LAV</tspan><tspan class="w">P</tspan><tspan class="r">M</tspan>W<tspan class="r">M</tspan><tspan class="w">L</tspan></text>
<text class="s" x="2.88" y="190.03"><tspan class="w">L</tspan>AKA<tspan class="r">R</tspan>KLSYFL<tspan class="r">LIVVSVLI</tspan><tspan class="w">TPPD</tspan>FI<tspan class="w">S</tspan><tspan class="r">D</tspan>F<tspan class="w">L</tspan><tspan class="r">V</tspan>M<tspan class="r">I</tspan><tspan class="w">P</tspan><tspan class="r">L</tspan>L<tspan class="r">V</tspan><tspan class="w">L</tspan></text>
</g>
</svg>
